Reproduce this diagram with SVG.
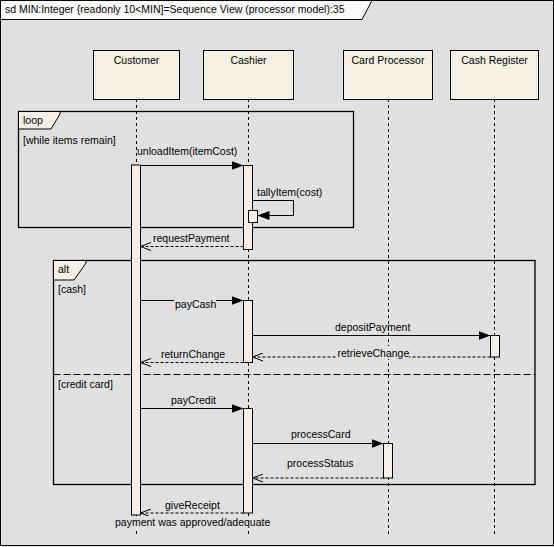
<svg xmlns="http://www.w3.org/2000/svg" width="554" height="547" viewBox="0 0 554 547">
<style>
text{font-family:"Liberation Sans",Arial,sans-serif;font-size:10.5px;fill:#000}
.box{fill:#f5f0e3;stroke:#000;stroke-width:1}
.act{fill:#f5f0e3;stroke:#000;stroke-width:1}
.life{stroke:#000;stroke-width:1;stroke-dasharray:3,3;fill:none}
.frag{fill:none;stroke:#000;stroke-width:1.3}
.tab{fill:#f5f0e3;stroke:#000;stroke-width:1}
.msg{stroke:#000;stroke-width:1;fill:none}
.ret{stroke:#000;stroke-width:1;fill:none;stroke-dasharray:3,2}
.sep{stroke:#000;stroke-width:1;stroke-dasharray:7,3}
.lbg{fill:#e0e0e0}
</style>
<defs>
<marker id="filled" viewBox="0 0 12 9" refX="12" refY="4.5" markerWidth="12" markerHeight="9" markerUnits="userSpaceOnUse" orient="auto">
<path d="M0,0 L12,4.5 L0,9 Z" fill="#000"/>
</marker>
<marker id="open" viewBox="0 0 11 9" refX="10.5" refY="4.5" markerWidth="11" markerHeight="9" markerUnits="userSpaceOnUse" orient="auto">
<path d="M0,0.5 L10.5,4.5 L0,8.5" fill="none" stroke="#000" stroke-width="1"/>
</marker>
</defs>
<rect x="0" y="0" width="554" height="547" fill="#e0e0e0"/>
<g id="frame">
<rect x="0.5" y="0.5" width="553" height="545" fill="none" stroke="#000" stroke-width="1"/>
<path d="M0.5,0.5 H372 L362,19.5 H0.5 Z" fill="#fbfbfb" stroke="#000" stroke-width="1"/>
<text x="5" y="13">sd MIN:Integer {readonly 10&lt;MIN]=Sequence View (processor model):35</text>
</g>
<g id="lifelines">
<line class="life" x1="136.5" y1="99" x2="136.5" y2="534"/>
<line class="life" x1="248.5" y1="99" x2="248.5" y2="534"/>
<line class="life" x1="388.5" y1="99" x2="388.5" y2="534"/>
<line class="life" x1="494.5" y1="99" x2="494.5" y2="534"/>
</g>
<g id="customer">
<rect class="box" x="93.5" y="50.5" width="86" height="49"/>
<text x="136.5" y="63.5" text-anchor="middle">Customer</text>
</g>
<g id="cashier">
<rect class="box" x="203.5" y="50.5" width="90" height="49"/>
<text x="248.5" y="63.5" text-anchor="middle">Cashier</text>
</g>
<g id="cardProcessor">
<rect class="box" x="343.5" y="50.5" width="89" height="49"/>
<text x="388" y="63.5" text-anchor="middle">Card Processor</text>
</g>
<g id="cashRegister">
<rect class="box" x="450.5" y="50.5" width="88" height="49"/>
<text x="494.5" y="63.5" text-anchor="middle">Cash Register</text>
</g>
<g id="loopFragment">
<rect class="frag" x="18.5" y="111.5" width="335" height="116"/>
<path class="tab" d="M18.5,111.5 H60 V114 L51,129 H18.5 Z"/>
<text x="23" y="124">loop</text>
<text x="23" y="144">[while items remain]</text>
</g>
<g id="altFragment">
<rect class="frag" x="53.5" y="260.5" width="481.5" height="224"/>
<path class="tab" d="M53.5,260.5 H86 V263 L74,280 H53.5 Z"/>
<text x="58" y="273">alt</text>
<text x="58" y="293">[cash]</text>
<line class="sep" x1="53.5" y1="374.5" x2="535" y2="374.5"/>
<text x="58" y="388">[credit card]</text>
</g>
<g id="activations">
<rect class="act" x="131.5" y="165" width="9" height="350"/>
<rect class="act" x="243.5" y="165.5" width="9" height="84"/>
<rect class="act" x="248.5" y="210.5" width="9" height="12"/>
<rect class="act" x="243.5" y="300.5" width="9" height="62"/>
<rect class="act" x="490.5" y="335.5" width="9" height="21.5"/>
<rect class="act" x="243.5" y="408.5" width="9" height="104.5"/>
<rect class="act" x="383.5" y="443.5" width="9" height="34.5"/>
</g>
<g id="connectors">
<line class="msg" x1="140.5" y1="165.5" x2="243.5" y2="165.5" marker-end="url(#filled)"/>
<text x="137" y="155">unloadItem(itemCost)</text>
<path class="msg" d="M252.5,200.5 H293.5 V215.5 H257.5" marker-end="url(#filled)"/>
<text x="257" y="196">tallyItem(cost)</text>
<line class="ret" x1="243.5" y1="246.5" x2="140.5" y2="246.5" marker-end="url(#open)"/>
<text x="153" y="242">requestPayment</text>
<line class="msg" x1="140.5" y1="300.5" x2="243.5" y2="300.5" marker-end="url(#filled)"/>
<rect class="lbg" x="174" y="298" width="42" height="12"/>
<text x="175" y="308">payCash</text>
<line class="msg" x1="252.5" y1="335.5" x2="490.5" y2="335.5" marker-end="url(#filled)"/>
<text x="335" y="330.5">depositPayment</text>
<line class="ret" x1="490.5" y1="357" x2="252.5" y2="357" marker-end="url(#open)"/>
<rect class="lbg" x="336" y="346" width="73" height="13"/>
<text x="337.5" y="356.5">retrieveChange</text>
<line class="ret" x1="243.5" y1="362.5" x2="140.5" y2="362.5" marker-end="url(#open)"/>
<text x="161" y="358">returnChange</text>
<line class="msg" x1="140.5" y1="408.5" x2="243.5" y2="408.5" marker-end="url(#filled)"/>
<text x="171" y="404">payCredit</text>
<line class="msg" x1="252.5" y1="443.5" x2="383.5" y2="443.5" marker-end="url(#filled)"/>
<text x="291" y="438">processCard</text>
<line class="ret" x1="383.5" y1="478" x2="252.5" y2="478" marker-end="url(#open)"/>
<text x="287" y="467">processStatus</text>
<line class="ret" x1="243.5" y1="513" x2="140.5" y2="513" marker-end="url(#open)"/>
<text x="165" y="508.5">giveReceipt</text>
<rect class="lbg" x="112" y="516" width="160" height="14"/>
<text x="115" y="526">payment was approved/adequate</text>
</g>
</svg>
